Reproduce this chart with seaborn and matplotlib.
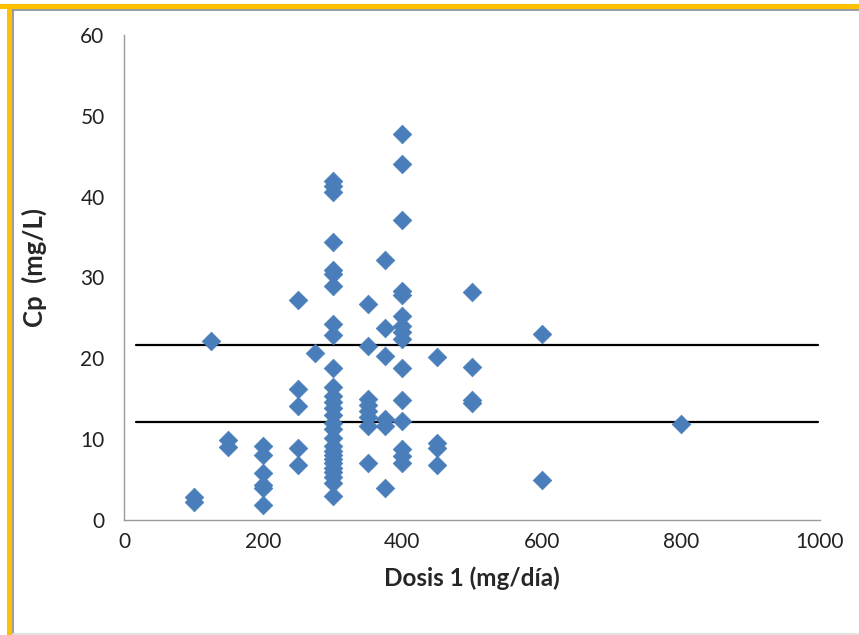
import numpy as np
import pandas as pd
import matplotlib
matplotlib.use("Agg")
import matplotlib.pyplot as plt
import seaborn as sns
from matplotlib.patches import Rectangle
from matplotlib.lines import Line2D

# Data: dose (mg/day) and plasma concentration Cp (mg/L)
dose_100 = [100, 100]
cp_100 = [2.8, 2.2]
dose_125 = [125]
cp_125 = [22.2]
dose_150 = [150, 150]
cp_150 = [9.9, 9.0]
dose_200 = [200] * 6
cp_200 = [9.2, 8.0, 5.8, 4.3, 3.9, 1.8]
dose_250 = [250] * 5
cp_250 = [27.2, 16.2, 14.1, 8.9, 6.8]
dose_275 = [275]
cp_275 = [20.7]
cp_300 = [41.9, 41.3, 40.6, 34.4, 30.9, 30.4, 28.9, 24.3, 22.9, 18.8,
          16.5, 15.3, 14.6, 13.8, 13.0, 12.0, 11.3, 10.1, 9.1, 8.5,
          8.0, 7.5, 7.0, 6.4, 6.0, 5.3, 4.6, 3.0]
dose_300 = [300] * len(cp_300)
cp_350 = [26.7, 21.5, 15.0, 14.2, 13.5, 12.8, 11.6, 7.1]
dose_350 = [350] * len(cp_350)
cp_375 = [32.2, 23.7, 20.3, 12.5, 11.6, 4.0]
dose_375 = [375] * len(cp_375)
cp_400 = [47.8, 44.1, 37.1, 28.3, 27.8, 25.2, 24.0, 23.2, 22.4, 18.8,
          14.9, 12.2, 8.8, 7.9, 7.0]
dose_400 = [400] * len(cp_400)
cp_450 = [20.2, 9.5, 8.9, 6.8]
dose_450 = [450] * len(cp_450)
cp_500 = [28.2, 18.9, 14.8, 14.5]
dose_500 = [500] * len(cp_500)
cp_600 = [23.0, 4.9]
dose_600 = [600] * len(cp_600)
dose_800 = [800]
cp_800 = [11.9]

# therapeutic range reference lines
range_x = [17, 997]
range_upper = [21.6, 21.6]
range_lower = [12.1, 12.1]

x_ticks = [0, 200, 400, 600, 800, 1000]
y_ticks = [0, 10, 20, 30, 40, 50, 60]

dose = (dose_100 + dose_125 + dose_150 + dose_200 + dose_250 + dose_275 + dose_300
        + dose_350 + dose_375 + dose_400 + dose_450 + dose_500 + dose_600 + dose_800)
cp = (cp_100 + cp_125 + cp_150 + cp_200 + cp_250 + cp_275 + cp_300
      + cp_350 + cp_375 + cp_400 + cp_450 + cp_500 + cp_600 + cp_800)
df = pd.DataFrame({"Dosis": dose, "Cp": cp})

sns.set_style("white")
plt.rcParams['font.family'] = ['Lato', 'DejaVu Sans']

fig = plt.figure(figsize=(8.59, 6.35), dpi=100)
ax = fig.add_axes([124 / 859, 115 / 635, (820 - 124) / 859, (520 - 35) / 635])

sns.scatterplot(data=df, x="Dosis", y="Cp", marker="D", s=90, color="#4A7EBB",
                edgecolor="#4A7EBB", linewidth=0.5, ax=ax, zorder=3)

ax.plot(range_x, range_upper, color="black", lw=1.6, zorder=2)
ax.plot(range_x, range_lower, color="black", lw=1.6, zorder=2)

ax.set_xlim(0, 1000)
ax.set_ylim(0, 60)
ax.set_xticks(x_ticks)
ax.set_yticks(y_ticks)
ax.tick_params(axis="both", length=0, labelsize=15, colors="#222222", pad=9)
ax.tick_params(axis="y", pad=14)

for side in ["top", "right"]:
    ax.spines[side].set_visible(False)
for side in ["left", "bottom"]:
    ax.spines[side].set_color("#9a9a9a")
    ax.spines[side].set_linewidth(1.0)

ax.set_xlabel("Dosis 1 (mg/día)", fontsize=17.5, fontweight="bold", labelpad=10)
ax.set_ylabel("Cp  (mg/L)", fontsize=18.5, fontweight="bold")
ax.yaxis.set_label_coords(-0.11, 0.52)

# frame: yellow band at top/left, thin gray border inside
fig.patches.append(Rectangle((0, 1 - 9 / 635), 1, 5 / 635, transform=fig.transFigure,
                             facecolor="#FFC000", edgecolor="none", zorder=-2))
fig.patches.append(Rectangle((7 / 859, 0), 5 / 859, 1 - 4 / 635, transform=fig.transFigure,
                             facecolor="#FFC000", edgecolor="none", zorder=-2))
fig.lines.append(Line2D([12 / 859, 1], [1 - 10 / 635, 1 - 10 / 635], transform=fig.transFigure,
                        color="#8a8a8a", lw=1.2, zorder=-2))
fig.lines.append(Line2D([12.5 / 859, 12.5 / 859], [0, 1 - 10 / 635], transform=fig.transFigure,
                        color="#8a8a8a", lw=1.2, zorder=-2))
fig.lines.append(Line2D([12 / 859, 1], [1.5 / 635, 1.5 / 635], transform=fig.transFigure,
                        color="#dddddd", lw=1.2, zorder=-2))

fig.savefig("out.png", dpi=100)
